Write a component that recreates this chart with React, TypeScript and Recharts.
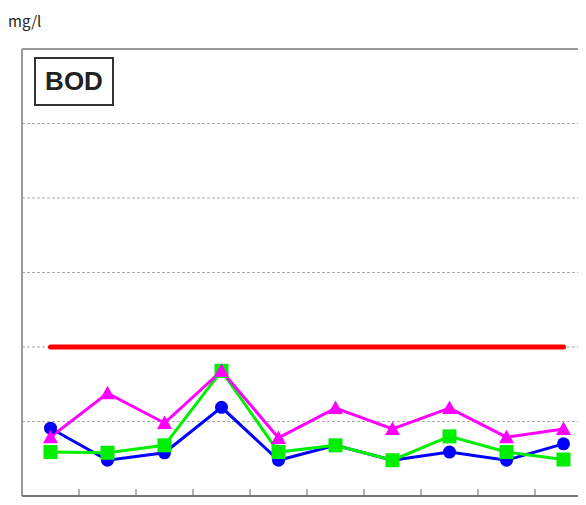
import React from 'react';
import { LineChart, Line, XAxis, YAxis, CartesianGrid, ReferenceLine } from 'recharts';

const positions = [0.5, 1.5, 2.5, 3.5, 4.5, 5.5, 6.5, 7.5, 8.5, 9.5];
const blueValues = [0.91, 0.48, 0.58, 1.19, 0.48, 0.68, 0.48, 0.59, 0.48, 0.7];
const greenValues = [0.59, 0.58, 0.68, 1.68, 0.59, 0.68, 0.48, 0.8, 0.59, 0.49];
const magentaValues = [0.79, 1.38, 0.98, 1.68, 0.78, 1.18, 0.9, 1.18, 0.79, 0.9];
const limitValue = 2;
const boundaryTicks = [1, 2, 3, 4, 5, 6, 7, 8, 9];
const gridTicks = [1, 2, 3, 4, 5];

const data = positions.map((x, i) => ({
  x,
  blue: blueValues[i],
  green: greenValues[i],
  magenta: magentaValues[i],
  limit: limitValue,
}));

const CircleDot = (props: any) => {
  const { cx, cy } = props;
  if (cx == null || cy == null) return null;
  return <circle cx={cx} cy={cy} r={6.5} fill="#0000ff" />;
};

const SquareDot = (props: any) => {
  const { cx, cy } = props;
  if (cx == null || cy == null) return null;
  return <rect x={cx - 7} y={cy - 7} width={14} height={14} fill="#00ee00" />;
};

const TriangleDot = (props: any) => {
  const { cx, cy } = props;
  if (cx == null || cy == null) return null;
  const s = 7.5;
  return (
    <polygon
      points={`${cx},${cy - s} ${cx + s},${cy + s * 0.8} ${cx - s},${cy + s * 0.8}`}
      fill="#ff00ff"
    />
  );
};

const NoLabel = () => <g />;

export default function App() {
  return (
    <div style={{ position: 'relative', width: 578, height: 489, overflow: 'hidden' }}>
      <LineChart
        width={578}
        height={489}
        data={data}
        margin={{ top: 41, right: -6, bottom: 1, left: 14 }}
        style={{ overflow: 'hidden' }}
      >
        <XAxis
          dataKey="x"
          type="number"
          domain={[0, 10]}
          ticks={boundaryTicks}
          mirror
          tick={NoLabel}
          tickSize={7}
          tickLine={{ stroke: '#666', strokeWidth: 1 }}
          axisLine={{ stroke: '#777', strokeWidth: 2 }}
          allowDataOverflow
        />
        <YAxis
          type="number"
          domain={[0, 6]}
          ticks={gridTicks}
          hide
        />
        <CartesianGrid
          vertical={false}
          horizontalValues={gridTicks}
          stroke="#aaa"
          strokeDasharray="3 2"
        />
        <ReferenceLine y={6} stroke="#999" strokeWidth={2} />
        <ReferenceLine x={0} stroke="#999" strokeWidth={2} />
        <Line
          dataKey="limit"
          stroke="#ff0000"
          strokeWidth={5}
          strokeLinecap="round"
          dot={false}
          isAnimationActive={false}
        />
        <Line
          dataKey="blue"
          stroke="#0000ff"
          strokeWidth={3}
          dot={<CircleDot />}
          activeDot={false}
          isAnimationActive={false}
        />
        <Line
          dataKey="green"
          stroke="#00ee00"
          strokeWidth={3}
          dot={<SquareDot />}
          activeDot={false}
          isAnimationActive={false}
        />
        <Line
          dataKey="magenta"
          stroke="#ff00ff"
          strokeWidth={3}
          dot={<TriangleDot />}
          activeDot={false}
          isAnimationActive={false}
        />
      </LineChart>
      <div
        style={{
          position: 'absolute',
          left: 0,
          top: 2,
          fontFamily: '"Noto Sans CJK JP", "Noto Sans", sans-serif',
          fontSize: 15,
          color: '#222',
        }}
      >
        mg/l
      </div>
      <div
        style={{
          position: 'absolute',
          left: 26,
          top: 49,
          width: 76,
          height: 45,
          border: '2px solid #333',
          display: 'flex',
          alignItems: 'center',
          justifyContent: 'center',
          fontFamily: '"Liberation Sans", Arial, sans-serif',
          fontWeight: 'bold',
          fontSize: 26,
          color: '#222',
          background: '#fff',
        }}
      >
        BOD
      </div>
    </div>
  );
}
